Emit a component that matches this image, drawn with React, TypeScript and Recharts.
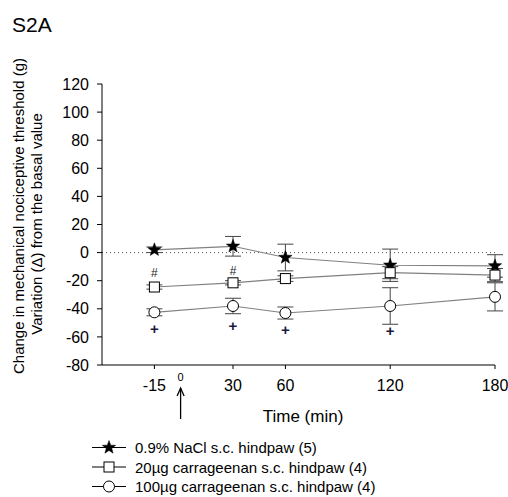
import React from 'react';
import { ComposedChart, Line, XAxis, YAxis, ErrorBar, ReferenceLine, Scatter } from 'recharts';

const times = [-15, 30, 60, 120, 180];
const naclMean = [2, 4.5, -3.5, -9, -9.5];
const naclErr = [2, 7, 9.5, 11.5, 8];
const carr20Mean = [-24.5, -21.5, -18.5, -14.3, -16];
const carr20Err = [1.5, 1.5, 2, 4.3, 4.7];
const carr100Mean = [-42.5, -38, -43, -38, -31.5];
const carr100Err = [2.5, 5.5, 4.3, 13, 10];

const hashTimes = [-15, 30];
const hashValues = [-14.5, -13];
const plusTimes = [-15, 30, 60, 120];
const plusValues = [-54, -52, -54.5, -55.5];
const injectionTime = [0];
const axisBottom = [-80];

const xTicks = [-15, 30, 60, 120, 180];
const yTicks = [-80, -60, -40, -20, 0, 20, 40, 60, 80, 100, 120];
const seriesNames = [
  '0.9% NaCl s.c. hindpaw (5)',
  '20\u00b5g carrageenan s.c. hindpaw (4)',
  '100\u00b5g carrageenan s.c. hindpaw (4)',
];

const data = times.map((t, i) => ({
  t,
  nacl: naclMean[i],
  naclE: naclErr[i],
  c20: carr20Mean[i],
  c20E: carr20Err[i],
  c100: carr100Mean[i],
  c100E: carr100Err[i],
}));
const hashData = hashTimes.map((t, i) => ({ t, v: hashValues[i] }));
const plusData = plusTimes.map((t, i) => ({ t, v: plusValues[i] }));
const injData = injectionTime.map((t, i) => ({ t, v: axisBottom[i] }));

const FONT = '"Liberation Sans", Arial, sans-serif';

const starPath = (cx: number, cy: number, R: number, r: number) => {
  let d = '';
  for (let k = 0; k < 10; k++) {
    const ang = -Math.PI / 2 + (k * Math.PI) / 5;
    const rad = k % 2 === 0 ? R : r;
    d += (k === 0 ? 'M' : 'L') + (cx + rad * Math.cos(ang)).toFixed(2) + ',' + (cy + rad * Math.sin(ang)).toFixed(2);
  }
  return d + 'Z';
};

const StarMark = ({ cx, cy }: { cx: number; cy: number }) => (
  <path d={starPath(cx, cy, 7, 2.9)} fill="#000" stroke="#000" strokeWidth={0.5} />
);
const SquareMark = ({ cx, cy }: { cx: number; cy: number }) => (
  <rect x={cx - 5} y={cy - 5} width={10} height={10} fill="#fff" stroke="#000" strokeWidth={1} />
);
const CircleMark = ({ cx, cy }: { cx: number; cy: number }) => (
  <circle cx={cx} cy={cy} r={5.5} fill="#fff" stroke="#000" strokeWidth={1} />
);

const LINE_COLOR = '#808080';
const ERR_COLOR = '#444';

export default function App() {
  return (
    <div style={{ position: 'absolute', left: 0, top: 0, width: 508, height: 497, background: '#fff' }}>
      <ComposedChart
        width={508}
        height={497}
        data={data}
        margin={{ top: 84, right: 13, bottom: 102, left: 42 }}
      >
        <XAxis
          dataKey="t"
          type="number"
          domain={[-45, 180]}
          ticks={xTicks}
          height={30}
          tickSize={4}
          tickMargin={11}
          stroke="#000"
          tick={{ fill: '#000', fontSize: 16, fontFamily: FONT }}
          axisLine={{ stroke: '#000' }}
          tickLine={{ stroke: '#000' }}
        />
        <YAxis
          type="number"
          domain={[-80, 120]}
          ticks={yTicks}
          width={60}
          tickSize={5}
          tickMargin={8}
          interval={0}
          stroke="#000"
          tick={{ fill: '#000', fontSize: 16, fontFamily: FONT }}
          axisLine={{ stroke: '#000' }}
          tickLine={{ stroke: '#000' }}
        />
        <ReferenceLine y={0} stroke="#555" strokeDasharray="1 3" />
        <Line
          dataKey="nacl"
          stroke={LINE_COLOR}
          strokeWidth={1.2}
          isAnimationActive={false}
          dot={(p: any) => <StarMark key={'s' + p.index} cx={p.cx} cy={p.cy} />}
        >
          <ErrorBar dataKey="naclE" width={8} stroke={ERR_COLOR} strokeWidth={1} direction="y" />
        </Line>
        <Line
          dataKey="c20"
          stroke={LINE_COLOR}
          strokeWidth={1.2}
          isAnimationActive={false}
          dot={(p: any) => <SquareMark key={'q' + p.index} cx={p.cx} cy={p.cy} />}
        >
          <ErrorBar dataKey="c20E" width={8} stroke={ERR_COLOR} strokeWidth={1} direction="y" />
        </Line>
        <Line
          dataKey="c100"
          stroke={LINE_COLOR}
          strokeWidth={1.2}
          isAnimationActive={false}
          dot={(p: any) => <CircleMark key={'c' + p.index} cx={p.cx} cy={p.cy} />}
        >
          <ErrorBar dataKey="c100E" width={8} stroke={ERR_COLOR} strokeWidth={1} direction="y" />
        </Line>
        <Scatter
          data={hashData}
          dataKey="v"
          isAnimationActive={false}
          shape={(p: any) => (
            <text x={p.cx} y={p.cy} textAnchor="middle" dominantBaseline="central" fontSize={12} fontFamily={FONT} fill="#222">
              #
            </text>
          )}
        />
        <Scatter
          data={plusData}
          dataKey="v"
          isAnimationActive={false}
          shape={(p: any) => (
            <text x={p.cx} y={p.cy} textAnchor="middle" dominantBaseline="central" fontSize={15} fontWeight="bold" fontFamily={FONT} fill="#1a1a40">
              +
            </text>
          )}
        />
        <Scatter
          data={injData}
          dataKey="v"
          isAnimationActive={false}
          shape={(p: any) => (
            <g>
              <text x={p.cx} y={p.cy + 12} textAnchor="middle" dominantBaseline="central" fontSize={11} fontFamily={FONT} fill="#000">
                0
              </text>
              <line x1={p.cx} y1={p.cy + 23} x2={p.cx} y2={p.cy + 54} stroke="#000" strokeWidth={1.3} />
              <path d={`M${p.cx - 3.5},${p.cy + 31} L${p.cx},${p.cy + 23} L${p.cx + 3.5},${p.cy + 31}`} fill="none" stroke="#000" strokeWidth={1.3} />
            </g>
          )}
        />
      </ComposedChart>
      <svg
        width={508}
        height={497}
        style={{ position: 'absolute', left: 0, top: 0, pointerEvents: 'none' }}
      >
        <text x={12} y={32} fontSize={21} fontFamily={FONT} fill="#000">S2A</text>
        <text
          x={18}
          y={216}
          transform="rotate(-90, 18, 216)"
          textAnchor="middle"
          dominantBaseline="central"
          fontSize={15}
          fontFamily={FONT}
          fill="#000"
        >
          Change in mechanical nociceptive threshold (g)
        </text>
        <text
          x={36}
          y={224}
          transform="rotate(-90, 36, 224)"
          textAnchor="middle"
          dominantBaseline="central"
          fontSize={15}
          fontFamily={FONT}
          fill="#000"
        >
          Variation (Δ) from the basal value
        </text>
        <text x={303} y={416} textAnchor="middle" dominantBaseline="central" fontSize={17} fontFamily={FONT} fill="#000">
          Time (min)
        </text>
        {seriesNames.map((name, i) => {
          const y = 447.5 + i * 19.5;
          return (
            <g key={name}>
              <line x1={92} y1={y} x2={126} y2={y} stroke="#000" strokeWidth={1} />
              {i === 0 && <StarMark cx={109} cy={y} />}
              {i === 1 && <SquareMark cx={109} cy={y} />}
              {i === 2 && <CircleMark cx={109} cy={y} />}
              <text x={135} y={y} dominantBaseline="central" fontSize={15} fontFamily={FONT} fill="#000">
                {name}
              </text>
            </g>
          );
        })}
      </svg>
    </div>
  );
}
